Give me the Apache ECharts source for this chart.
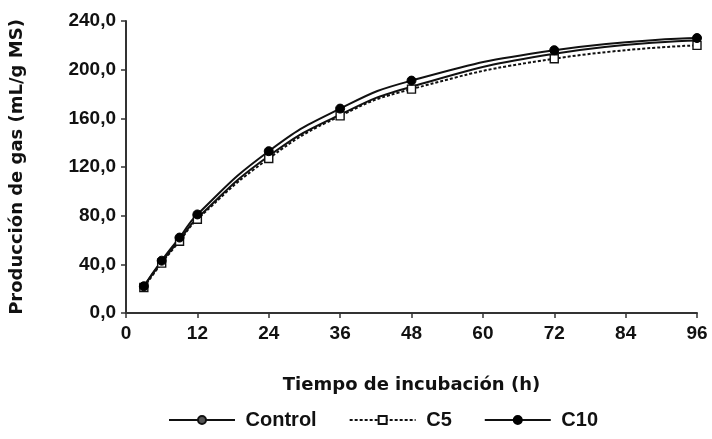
<!DOCTYPE html>
<html>
<head>
<meta charset="utf-8">
<script src="https://cdn.jsdelivr.net/npm/echarts@6/dist/echarts.min.js"></script>
<style>
html,body{margin:0;padding:0;background:#fff;}
#chart{width:712px;height:439px;}
</style>
</head>
<body>
<div id="chart"></div>
<script>
var hours = [3, 6, 9, 12, 24, 36, 48, 72, 96];
var controlValues = [22, 42, 60, 78, 129, 163, 186, 213, 224];
var c5Values = [21, 41, 59, 77, 127, 162, 184, 209, 220];
var c10Values = [22, 43, 62, 81, 133, 168, 191, 216, 226];
var seriesNames = ['Control', 'C5', 'C10'];
var xTitle = 'Tiempo de incubación (h)';
var yTitle = 'Producción de gas (mL/g MS)';

function pairs(vals) { return hours.map(function (h, i) { return [h, vals[i]]; }); }

var font = '"Liberation Sans", Arial, sans-serif';
var titleFont = '"DejaVu Sans", sans-serif';
var ink = '#111';
var chart = echarts.init(document.getElementById('chart'));
chart.setOption({
  animation: false,
  backgroundColor: '#fff',
  grid: { left: 126, right: 15, top: 21, bottom: 126 },
  legend: {
    bottom: 4,
    left: 163,
    itemWidth: 66,
    itemHeight: 10,
    itemGap: 32,
    formatter: function (n) { return ' ' + n; },
    textStyle: { fontFamily: font, fontWeight: 'bold', fontSize: 20, color: ink },
    data: seriesNames
  },
  xAxis: {
    type: 'value', min: 0, max: 96, interval: 12,
    name: xTitle, nameLocation: 'middle', nameGap: 63,
    nameTextStyle: { fontFamily: titleFont, fontWeight: 'bold', fontSize: 18, color: ink },
    axisLine: { lineStyle: { color: '#333', width: 2 } },
    axisTick: { show: true, length: 5, lineStyle: { color: '#333', width: 1.5 } },
    axisLabel: { fontFamily: font, fontWeight: 'bold', fontSize: 19, color: ink, margin: 11 },
    splitLine: { show: false }
  },
  yAxis: {
    type: 'value', min: 0, max: 240, interval: 40,
    name: yTitle, nameLocation: 'middle', nameGap: 100,
    nameTextStyle: { fontFamily: titleFont, fontWeight: 'bold', fontSize: 18, color: ink },
    axisLine: { show: true, lineStyle: { color: '#333', width: 2 } },
    axisTick: { show: true, length: 5, lineStyle: { color: '#333', width: 1.5 } },
    axisLabel: {
      fontFamily: font, fontWeight: 'bold', fontSize: 19, color: ink, margin: 10,
      formatter: function (v) { return v.toFixed(1).replace('.', ','); }
    },
    splitLine: { show: false }
  },
  series: [
    {
      name: seriesNames[0], type: 'line', smooth: true, data: pairs(controlValues),
      symbol: 'circle', symbolSize: 4,
      lineStyle: { color: ink, width: 2 },
      itemStyle: { color: '#555', borderColor: ink, borderWidth: 1 }
    },
    {
      name: seriesNames[1], type: 'line', smooth: true, data: pairs(c5Values),
      symbol: 'rect', symbolSize: 8,
      lineStyle: { color: ink, width: 2, type: [3, 2] },
      itemStyle: { color: '#fff', borderColor: ink, borderWidth: 1.4 }
    },
    {
      name: seriesNames[2], type: 'line', smooth: true, data: pairs(c10Values),
      symbol: 'circle', symbolSize: 9,
      lineStyle: { color: ink, width: 2 },
      itemStyle: { color: '#000', borderColor: '#000', borderWidth: 1 }
    }
  ]
});
</script>
</body>
</html>
